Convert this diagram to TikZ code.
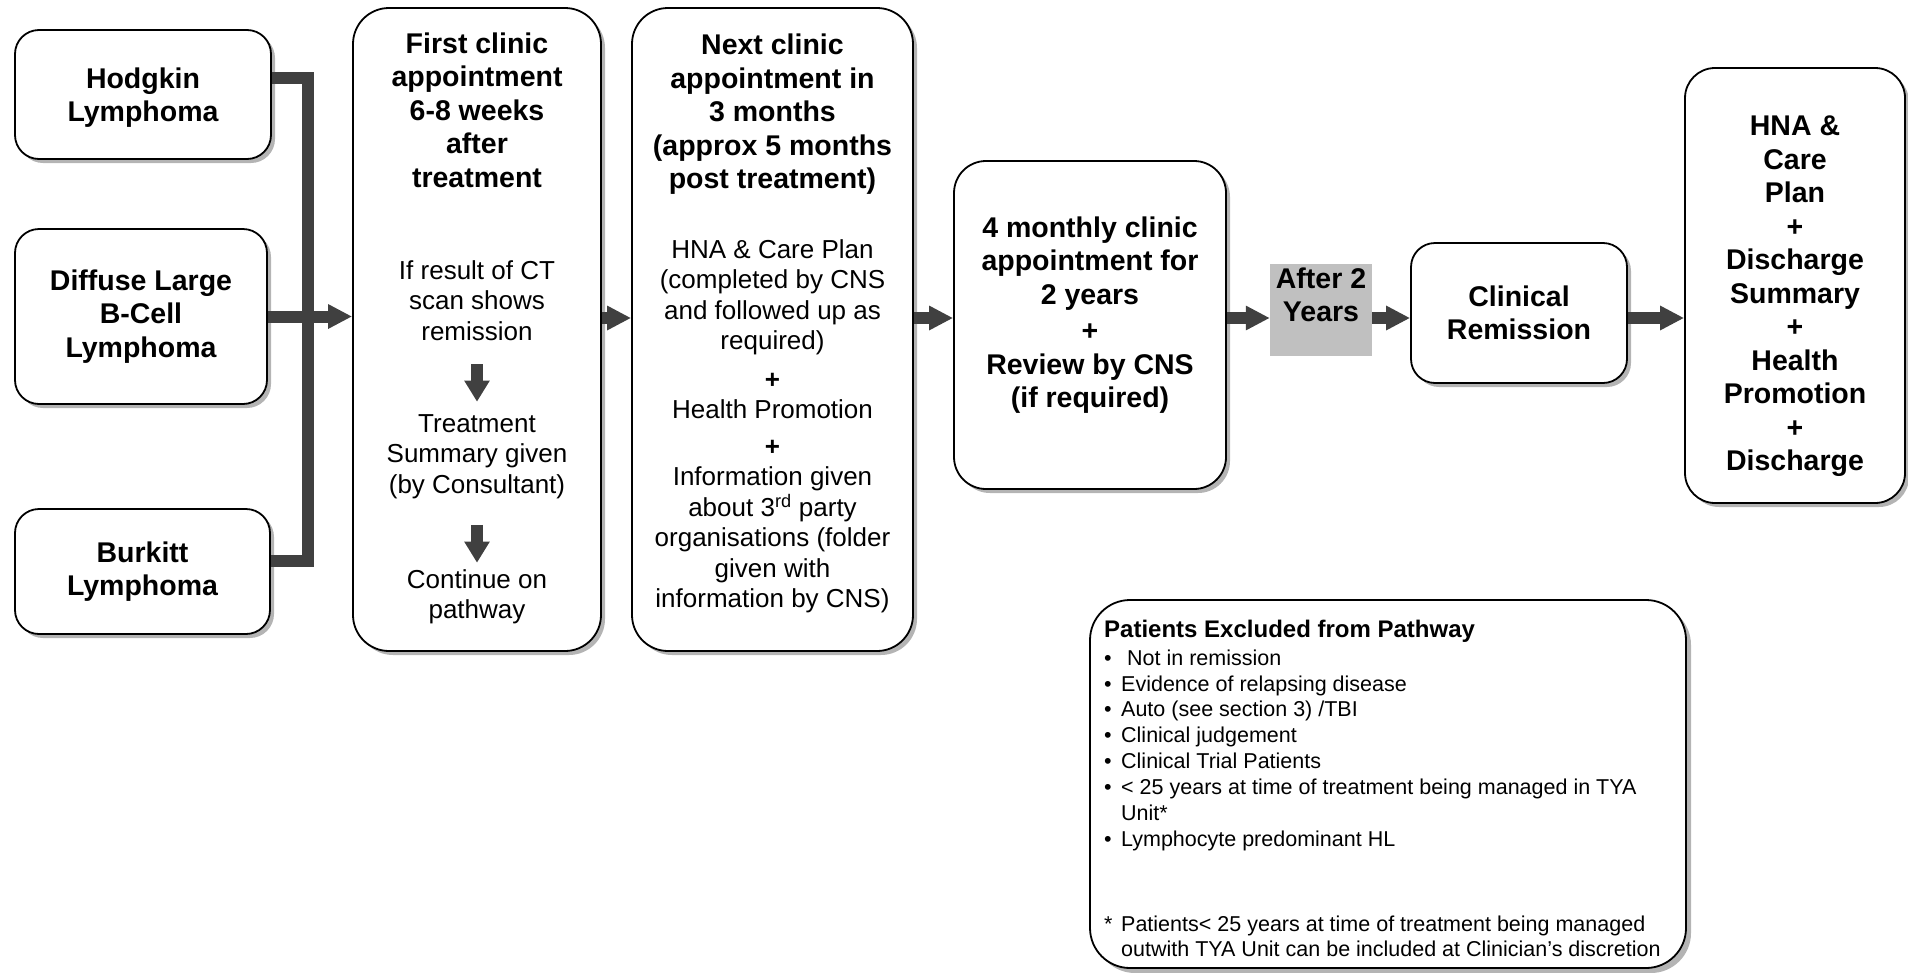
\documentclass[tikz,border=0pt]{standalone}
\usepackage{fontspec}
\setmainfont{Liberation Sans}
\usepackage{xcolor}
\definecolor{clArrow}{HTML}{404040}
\definecolor{clPause}{HTML}{C0C0C0}
\definecolor{clShadow}{HTML}{B4B4B4}
\usepackage{tikz}
\usetikzlibrary{arrows.meta,positioning,calc,shadows}
\tikzset{
  box/.style={rectangle, rounded corners=24pt, draw, line width=1.8pt, fill=white,
              align=center, inner sep=0pt,
              drop shadow={shadow xshift=4pt, shadow yshift=-4pt, fill=clShadow, opacity=1}},
  bigbox/.style={box, rounded corners=36pt},
  headtext/.style={align=center, inner sep=0pt, font=\bfseries\fontsize{28.5}{33.5}\selectfont},
  bodytext/.style={align=center, inner sep=0pt, font=\fontsize{26}{30.5}\selectfont},
  listtext/.style={align=left, inner sep=0pt, font=\fontsize{21.5}{25.86}\selectfont},
  pause/.style={rectangle, fill=clPause, inner sep=0pt},
  flow/.style={-{Triangle[length=24pt,width=23pt]}, line width=12pt, draw=clArrow},
  stepdown/.style={-{Triangle[length=21pt,width=24pt]}, line width=12pt, draw=clArrow},
  joinline/.style={line width=12pt, draw=clArrow},
}

\begin{document}
\begin{tikzpicture}[x=1pt, y=1pt]
  \useasboundingbox (0,0) rectangle (1908,-972);
  \coordinate (axis) at (0,-318);
  % lymphoma types
  \node[box, minimum width=256pt, minimum height=129pt] (hodg) at (143,-94.5) {};
  \node[headtext] (hodgtext) at ([yshift=-3pt]hodg.center) {Hodgkin\\Lymphoma};
  \node[box, headtext, minimum width=252pt, minimum height=175pt] (diff) at (141,-316.5) {Diffuse Large\\B-Cell\\Lymphoma};
  \node[box, headtext, minimum width=255pt, minimum height=125pt] (burk) at (142.5,-571.5) {Burkitt\\Lymphoma};
  % first appointment
  \node[bigbox, minimum width=248pt, minimum height=643pt] (first) at (477,-329.5) {};
  \node[headtext, anchor=north] (firsthead) at (477,-32.6) {First clinic\\appointment\\6-8 weeks\\after\\treatment};
  \node[bodytext, anchor=north] (scan) at (477,-260.2) {If result of CT\\scan shows\\remission};
  \node[bodytext, anchor=north] (summ) at (477,-414.2) {Treatment\\Summary given\\(by Consultant)};
  \node[bodytext, anchor=north] (cont) at (477,-569.2) {Continue on\\pathway};
  \draw[stepdown, shorten <=23.5pt, shorten >=12.5pt] (scan.south) -- (summ.north);
  \draw[stepdown, shorten <=26pt, shorten >=6.5pt] (summ.south) -- (cont.north);
  % next appointment
  \node[bigbox, minimum width=281pt, minimum height=643pt] (next) at (772.5,-329.5) {};
  \node[headtext, anchor=north] (nexthead) at (772.5,-33.9) {Next clinic\\appointment in\\3 months\\(approx 5 months\\post treatment)};
  \node[bodytext, anchor=north] (nextbody) at (772.5,-239.2) {HNA \& Care Plan\\(completed by CNS\\and followed up as\\required)\\[8pt]\textbf{+}\\Health Promotion\\[6pt]\textbf{+}\\Information given\\about 3\textsuperscript{rd} party\\organisations (folder\\given with\\information by CNS)};
  % follow-up
  \node[bigbox, rounded corners=32pt, minimum width=272pt, minimum height=328pt] (fourm) at (1090,-325) {};
  \node[headtext, anchor=north] (fourmtext) at (1090,-216.6) {4 monthly clinic\\appointment for\\2 years\\[3pt]+\\Review by CNS\\(if required)};
  \node[pause, minimum width=102pt, minimum height=92pt] (after) at (1321,-310) {};
  \node[headtext, anchor=north] (aftertext) at (1321,-267.6) {After 2\\Years};
  \node[box, headtext, minimum width=216pt, minimum height=140pt] (remis) at (1519,-313) {Clinical\\Remission};
  \node[box, rounded corners=30pt, minimum width=220pt, minimum height=435pt] (hna) at (1795,-285.5) {};
  \node[headtext] (hnatext) at ([yshift=-11pt]hna.center) {HNA \&\\Care\\Plan\\+\\Discharge\\Summary\\+\\Health\\Promotion\\+\\Discharge};
  % exclusions
  \node[box, rounded corners=40pt, minimum width=596pt, minimum height=368pt,
        drop shadow={shadow xshift=5pt, shadow yshift=-5pt, fill=clShadow, opacity=1}] (excl) at (1388,-784) {};
  \node[listtext, anchor=north west] (excltext) at (1104,-619) {%
    \begin{tabular}{@{}p{17pt}@{}l@{}}
      \multicolumn{2}{@{}l@{}}{\bfseries\fontsize{24}{25.86}\selectfont Patients Excluded from Pathway}\\[2pt]
      \textbullet & \ Not in remission\\
      \textbullet & Evidence of relapsing disease\\
      \textbullet & Auto (see section 3) /TBI\\
      \textbullet & Clinical judgement\\
      \textbullet & Clinical Trial Patients\\
      \textbullet & < 25 years at time of treatment being managed in TYA\\
                  & Unit*\\
      \textbullet & Lymphocyte predominant HL\\[59pt]
      *           & Patients< 25 years at time of treatment being managed\\
                  & outwith TYA Unit can be included at Clinician’s discretion
    \end{tabular}};
  % connectors
  \draw[joinline] ([yshift=16.5pt]hodg.east) -- ++(36,0) |- ([yshift=10.5pt]burk.east);
  \draw[flow] (diff.east) -- (diff.east -| first.west);
  \draw[flow] (first.east |- axis) -- (next.west |- axis);
  \draw[flow] (next.east |- axis) -- (fourm.west |- axis);
  \draw[flow] (fourm.east |- axis) -- (after.west |- axis);
  \draw[flow] (after.east |- axis) -- (remis.west |- axis);
  \draw[flow] (remis.east |- axis) -- (hna.west |- axis);
\end{tikzpicture}
\end{document}
